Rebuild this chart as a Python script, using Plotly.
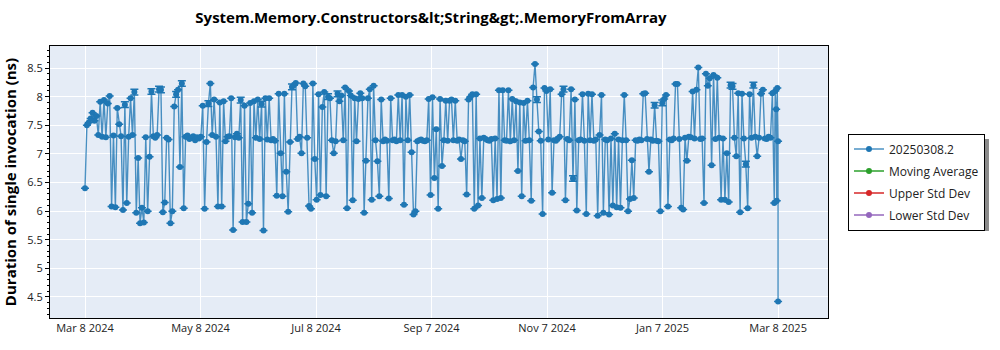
import numpy as np
import pandas as pd
import plotly.graph_objects as go

# Benchmark run history: days since the first run and mean duration (ns)
first_run = "2024-03-08"
run_days = [
    0, 1, 2, 3, 4, 5, 6, 7, 8, 9,
    10, 11, 12, 13, 14, 15, 16, 17, 18, 19,
    20, 21, 22, 23, 24, 25, 26, 27, 28, 29,
    30, 31, 32, 33, 34, 35, 36, 37, 38, 39,
    40, 41, 42, 43, 44, 45, 46, 47, 48, 49,
    50, 51, 52, 53, 54, 55, 56, 57, 58, 59,
    60, 61, 62, 63, 64, 65, 66, 67, 68, 69,
    70, 71, 72, 73, 74, 75, 76, 77, 78, 79,
    80, 81, 82, 83, 84, 85, 86, 87, 88, 89,
    90, 91, 92, 93, 94, 95, 96, 97, 98, 99,
    100, 101, 102, 103, 104, 105, 106, 107, 108, 109,
    110, 111, 112, 113, 114, 115, 116, 117, 118, 119,
    120, 121, 122, 123, 124, 125, 126, 127, 128, 129,
    130, 131, 132, 133, 134, 135, 136, 137, 138, 139,
    140, 141, 142, 143, 144, 145, 146, 147, 148, 149,
    150, 151, 152, 153, 154, 155, 156, 157, 158, 159,
    160, 161, 162, 163, 164, 165, 166, 167, 168, 169,
    170, 171, 172, 173, 174, 175, 176, 177, 178, 179,
    180, 181, 182, 183, 184, 185, 186, 187, 188, 189,
    190, 191, 192, 193, 194, 195, 196, 197, 198, 199,
    200, 201, 202, 203, 204, 205, 206, 207, 208, 209,
    210, 211, 212, 213, 214, 215, 216, 217, 218, 219,
    220, 221, 222, 223, 224, 225, 226, 227, 228, 229,
    230, 231, 232, 233, 234, 235, 236, 237, 238, 239,
    240, 241, 242, 243, 244, 245, 246, 247, 248, 249,
    250, 251, 252, 253, 254, 255, 256, 257, 258, 259,
    260, 261, 262, 263, 264, 265, 266, 267, 268, 269,
    270, 271, 272, 273, 274, 275, 276, 277, 278, 279,
    280, 281, 282, 283, 284, 285, 286, 287, 288, 289,
    290, 291, 292, 293, 294, 295, 296, 297, 298, 299,
    300, 301, 302, 303, 304, 305, 306, 307, 308, 309,
    310, 311, 312, 313, 314, 315, 316, 317, 318, 319,
    320, 321, 322, 323, 324, 325, 326, 327, 328, 329,
    330, 331, 332, 333, 334, 335, 336, 337, 338, 339,
    340, 341, 342, 343, 344, 345, 346, 347, 348, 349,
    350, 351, 352, 353, 354, 355, 356, 357, 358, 359,
    360, 361, 362, 363, 363.5, 364, 364.3, 364.6, 365, 365,
]
duration_ns = [
    6.40, 7.50, 7.55, 7.62, 7.72, 7.58, 7.66, 7.33, 7.91, 7.30,
    7.94, 7.29, 7.88, 8.01, 6.08, 7.32, 6.07, 7.80, 7.52, 7.31,
    6.02, 7.86, 6.14, 7.30, 7.97, 7.33, 8.08, 5.97, 6.93, 5.79,
    6.06, 5.80, 7.29, 6.00, 6.95, 8.09, 7.31, 7.28, 7.33, 8.13,
    8.12, 5.98, 6.15, 7.28, 7.25, 5.79, 6.00, 7.83, 8.04, 8.12,
    6.77, 8.23, 6.05, 7.30, 7.32, 7.26, 7.28, 7.31, 7.24, 7.29,
    7.27, 7.30, 7.84, 6.04, 7.21, 7.88, 8.23, 7.33, 7.95, 7.30,
    6.08, 7.90, 6.08, 7.92, 7.22, 7.30, 7.31, 7.97, 5.67, 7.29,
    7.35, 7.28, 7.94, 5.81, 7.84, 5.81, 6.13, 7.89, 5.97, 7.92,
    7.28, 7.95, 7.26, 7.87, 5.66, 7.97, 7.25, 7.97, 7.24, 7.26,
    7.23, 6.27, 8.05, 7.01, 6.26, 8.05, 6.69, 5.99, 7.21, 8.17,
    8.20, 8.24, 7.26, 7.30, 7.01, 8.23, 8.18, 7.28, 6.09, 6.04,
    8.23, 6.91, 6.20, 8.04, 6.28, 7.82, 8.08, 6.26, 8.00, 7.97,
    7.24, 7.01, 7.22, 8.05, 7.92, 8.02, 7.24, 8.16, 6.05, 8.10,
    8.02, 6.19, 7.97, 7.22, 7.96, 8.06, 7.97, 5.97, 6.88, 7.97,
    8.13, 6.20, 8.19, 7.24, 6.87, 6.26, 7.95, 7.22, 7.25, 7.23,
    6.22, 7.97, 7.24, 7.25, 7.22, 8.03, 7.24, 8.03, 6.11, 8.00,
    7.24, 8.03, 7.03, 5.94, 6.00, 7.22, 7.24, 7.25, 7.23, 7.22,
    7.24, 7.96, 6.28, 7.99, 6.58, 7.43, 6.04, 7.96, 6.79, 7.24,
    7.93, 7.23, 7.93, 7.95, 7.24, 7.93, 7.23, 7.25, 6.91, 7.24,
    7.22, 6.29, 7.95, 8.00, 8.04, 6.04, 8.04, 6.10, 7.27, 6.23,
    7.28, 7.26, 7.24, 7.23, 7.26, 6.19, 7.27, 6.21, 8.11, 6.23,
    8.11, 7.24, 7.23, 8.11, 7.22, 7.96, 7.24, 7.92, 6.70, 7.90,
    6.26, 7.89, 7.23, 7.93, 7.24, 6.18, 8.16, 8.57, 7.95, 7.39,
    7.23, 5.95, 8.15, 8.10, 7.25, 8.13, 6.32, 7.24, 7.23, 7.27,
    7.30, 8.04, 8.13, 6.19, 7.26, 7.24, 8.13, 6.57, 7.95, 6.01,
    7.24, 7.25, 8.04, 7.23, 5.95, 8.05, 7.24, 8.04, 7.23, 7.25,
    5.92, 7.33, 8.03, 5.97, 7.25, 7.24, 5.94, 7.27, 6.10, 7.35,
    6.07, 7.25, 6.06, 7.24, 8.03, 7.24, 6.00, 6.21, 6.89, 6.23,
    7.24, 7.23, 7.25, 7.24, 8.05, 8.06, 7.26, 6.69, 7.25, 7.23,
    7.85, 7.23, 7.22, 6.00, 7.89, 7.96, 8.03, 6.08, 7.25, 7.24,
    7.27, 8.22, 8.22, 7.26, 6.06, 6.03, 7.28, 6.88, 7.30, 7.29,
    8.09, 7.27, 8.12, 8.51, 7.26, 7.27, 6.14, 8.40, 8.19, 8.32,
    6.80, 8.38, 7.26, 8.33, 7.28, 6.20, 7.27, 6.20, 7.01, 6.16,
    8.20, 8.18, 7.28, 6.96, 8.06, 5.98, 8.05, 7.27, 6.82, 6.05,
    8.04, 7.28, 8.20, 7.30, 6.96, 7.28, 8.05, 8.12, 7.27, 7.26,
    7.30, 7.28, 8.06, 6.14, 8.10, 7.78, 6.18, 8.15, 7.22, 4.42,
]
# Runs that reported a spread (index into the run list, error in ns)
spread_runs = [21, 26, 35, 39, 40, 48, 51, 65, 82, 93, 109, 128,
               133, 238, 252, 257, 300, 304, 340, 341, 348, 352]
spread_ns = [0.05, 0.05, 0.05, 0.05, 0.05, 0.05, 0.05, 0.05, 0.05, 0.05, 0.05, 0.05,
             0.05, 0.05, 0.05, 0.05, 0.05, 0.05, 0.05, 0.05, 0.05, 0.05]

x_tick_labels = ["Mar 8 2024", "May 8 2024", "Jul 8 2024", "Sep 7 2024",
                 "Nov 7 2024", "Jan 7 2025", "Mar 8 2025"]
series_names = ["20250308.2", "Moving Average", "Upper Std Dev", "Lower Std Dev"]
series_colors = ["#1f77b4", "#2ca02c", "#d62728", "#9467bd"]

run_dates = pd.Timestamp(first_run) + pd.to_timedelta(run_days, unit="D")
err = [None] * len(duration_ns)
for i, e in zip(spread_runs, spread_ns):
    err[i] = e

FONT = "Open Sans, sans-serif"

fig = go.Figure()
fig.add_trace(go.Scatter(
    x=run_dates, y=duration_ns, name=series_names[0], mode="lines+markers",
    legendgroup="g0",
    line=dict(color="rgba(31,119,180,0.8)", width=1.4),
    marker=dict(color=series_colors[0], size=6),
    error_y=dict(type="data", array=err, visible=True, color=series_colors[0],
                 thickness=1.5, width=4),
))
for k, (name, color) in enumerate(zip(series_names[1:], series_colors[1:]), start=1):
    fig.add_trace(go.Scatter(
        x=[None], y=[None], name=name, mode="lines+markers", legendgroup=f"g{k}",
        line=dict(color=color, width=1.4), marker=dict(color=color, size=6),
    ))

# evenly spaced date ticks between the first and last run
t0 = pd.Timestamp(run_dates[0]).value
t1 = pd.Timestamp(run_dates[-1]).value
tick_vals = pd.to_datetime(np.linspace(t0, t1, len(x_tick_labels)))

# drop shadow behind the legend box
fig.add_shape(type="rect", xref="paper", yref="paper",
              x0=1.0296, x1=1.2069, y0=0.3199, y1=0.6581,
              fillcolor="#8a8a8a", line_width=0, layer="below")

fig.update_layout(
    width=1000, height=350,
    margin=dict(l=50, r=172, t=46, b=32),
    paper_bgcolor="white", plot_bgcolor="#E5ECF6",
    font=dict(family=FONT, size=11, color="#222"),
    title=dict(text="<b>System.Memory.Constructors&amp;lt;String&amp;gt;.MemoryFromArray</b>",
               x=0.431, xanchor="center", y=0.948, yanchor="middle",
               font=dict(size=15, color="black", family=FONT)),
    showlegend=True,
    legend=dict(x=1.0257, xanchor="left", y=0.5, yanchor="middle",
                bgcolor="white", bordercolor="black", borderwidth=1,
                tracegroupgap=3, itemwidth=30,
                font=dict(size=12, color="#222", family=FONT)),
)
fig.update_xaxes(
    type="date", range=["2024-02-18 13:40", "2025-04-03 07:00"],
    tickmode="array", tickvals=tick_vals, ticktext=x_tick_labels,
    showgrid=True, gridcolor="white", gridwidth=1, zeroline=False,
    showline=True, linecolor="black", linewidth=1, mirror=True,
    ticks="", tickfont=dict(size=11, color="#222"), automargin=False,
)
fig.update_yaxes(
    range=[4.133, 8.885], dtick=0.5, tick0=0,
    showgrid=True, gridcolor="white", gridwidth=1, zeroline=False,
    showline=True, linecolor="black", linewidth=1, mirror=True,
    ticks="outside", ticklen=4, tickcolor="black",
    minor=dict(dtick=0.1, ticks="outside", ticklen=2, tickcolor="black", showgrid=False),
    tickfont=dict(size=11, color="#222"), automargin=False,
    title=dict(text="<b>Duration of single invocation (ns)</b>", standoff=8,
               font=dict(size=15, color="black", family=FONT)),
)

fig.write_html("out.html")
